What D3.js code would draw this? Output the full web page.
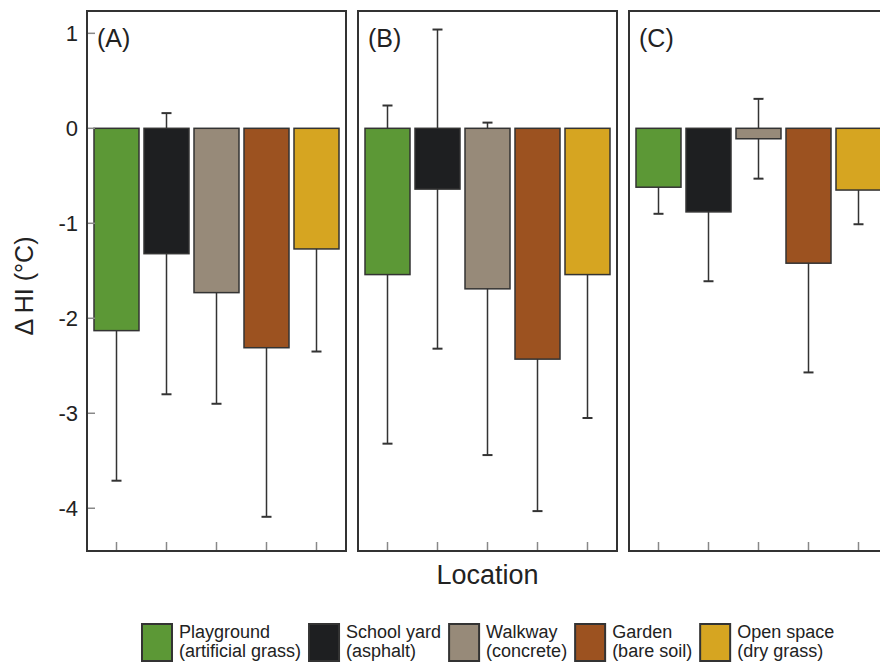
<!DOCTYPE html>
<html>
<head>
<meta charset="utf-8">
<script src="https://cdn.jsdelivr.net/npm/d3@7"></script>
<style>
  body { margin: 0; background: #fff; }
  svg { display: block; font-family: "Liberation Sans", Arial, sans-serif; }
</style>
</head>
<body>
<svg id="chart" width="880" height="666"></svg>
<script>
// categories and colours (legend order)
var locations = ['Playground', 'School yard', 'Walkway', 'Garden', 'Open space'];
var surfaces = ['(artificial grass)', '(asphalt)', '(concrete)', '(bare soil)', '(dry grass)'];
var colors = ['#5c9836', '#1e1f21', '#978a79', '#9c5220', '#d6a521'];

var panels = ['(A)', '(B)', '(C)'];
// mean change of heat index per location, one array per panel
var meanA = [-2.13, -1.32, -1.73, -2.31, -1.27];
var meanB = [-1.54, -0.64, -1.69, -2.43, -1.54];
var meanC = [-0.62, -0.88, -0.11, -1.42, -0.65];
// standard deviations (error bars)
var sdA = [1.58, 1.48, 1.17, 1.78, 1.08];
var sdB = [1.78, 1.68, 1.75, 1.60, 1.51];
var sdC = [0.28, 0.73, 0.42, 1.15, 0.36];

var yTicks = [1, 0, -1, -2, -3, -4];

var svg = d3.select('#chart');

var panelW = 259, panelGap = 12, left0 = 87;
var plotTop = 11, plotBottom = 551;

var y = d3.scaleLinear().domain([-4.45, 1.235]).range([plotBottom, plotTop]);
var x = d3.scaleBand().domain(locations).range([0, panelW]).paddingInner(0.1).paddingOuter(0.14);

var means = [meanA, meanB, meanC];
var sds = [sdA, sdB, sdC];

panels.forEach(function (label, p) {
    var g = svg.append('g').attr('transform', 'translate(' + (left0 + p * (panelW + panelGap)) + ',0)');
    var rows = locations.map(function (loc, i) {
        return { loc: loc, mean: means[p][i], sd: sds[p][i], color: colors[i] };
    });

    // error bars (drawn behind the bars)
    var err = g.append('g').attr('stroke', '#333').attr('stroke-width', 1.5);
    rows.forEach(function (d) {
        var cx = x(d.loc) + x.bandwidth() / 2;
        err.append('line').attr('x1', cx).attr('x2', cx)
            .attr('y1', y(d.mean - d.sd)).attr('y2', y(d.mean + d.sd));
        [d.mean - d.sd, d.mean + d.sd].forEach(function (v) {
            err.append('line').attr('x1', cx - 5).attr('x2', cx + 5)
                .attr('y1', y(v)).attr('y2', y(v)).attr('stroke-width', 2);
        });
    });

    g.selectAll('rect.bar').data(rows).enter().append('rect')
        .attr('class', 'bar')
        .attr('x', function (d) { return x(d.loc); })
        .attr('y', function (d) { return y(Math.max(0, d.mean)); })
        .attr('width', x.bandwidth())
        .attr('height', function (d) { return Math.abs(y(d.mean) - y(0)); })
        .attr('fill', function (d) { return d.color; })
        .attr('stroke', '#333')
        .attr('stroke-width', 1.5);

    // inward bottom ticks
    g.selectAll('line.xtick').data(locations).enter().append('line')
        .attr('class', 'xtick')
        .attr('x1', function (d) { return x(d) + x.bandwidth() / 2; })
        .attr('x2', function (d) { return x(d) + x.bandwidth() / 2; })
        .attr('y1', plotBottom).attr('y2', plotBottom - 9)
        .attr('stroke', '#888').attr('stroke-width', 1.5);

    if (p === 0) {
        g.selectAll('line.ytick').data(yTicks).enter().append('line')
            .attr('class', 'ytick')
            .attr('x1', 0).attr('x2', 8)
            .attr('y1', function (d) { return y(d); })
            .attr('y2', function (d) { return y(d); })
            .attr('stroke', '#888').attr('stroke-width', 1.5);
        g.selectAll('text.ylab').data(yTicks).enter().append('text')
            .attr('class', 'ylab')
            .attr('x', -9)
            .attr('y', function (d) { return y(d); })
            .attr('dy', '0.35em')
            .attr('text-anchor', 'end')
            .attr('font-size', 22)
            .attr('fill', '#222')
            .text(function (d) { return d; });
    }

    g.append('rect')
        .attr('x', 0).attr('y', plotTop)
        .attr('width', panelW).attr('height', plotBottom - plotTop)
        .attr('fill', 'none').attr('stroke', '#333').attr('stroke-width', 2);

    g.append('text')
        .attr('x', 10).attr('y', 47)
        .attr('font-size', 25).attr('fill', '#222')
        .text(label);
});

// axis titles
svg.append('text')
    .attr('transform', 'translate(33,286) rotate(-90)')
    .attr('text-anchor', 'middle')
    .attr('font-size', 25).attr('fill', '#222')
    .text('\u0394 HI (\u00b0C)');

svg.append('text')
    .attr('x', left0 + panelW + panelGap + panelW / 2).attr('y', 584)
    .attr('text-anchor', 'middle')
    .attr('font-size', 27).attr('fill', '#222')
    .text('Location');

// legend, items laid out one after another
var lx = 142;
locations.forEach(function (loc, i) {
    var item = svg.append('g');
    item.append('rect')
        .attr('x', lx).attr('y', 624)
        .attr('width', 30).attr('height', 37)
        .attr('fill', colors[i]).attr('stroke', '#333').attr('stroke-width', 2);
    var t = item.append('text')
        .attr('x', lx + 37).attr('y', 638)
        .attr('font-size', 18).attr('fill', '#222');
    t.append('tspan').attr('x', lx + 37).text(loc);
    t.append('tspan').attr('x', lx + 37).attr('y', 657).text(surfaces[i]);
    lx += 37 + t.node().getBBox().width + 8;
});
</script>
</body>
</html>
